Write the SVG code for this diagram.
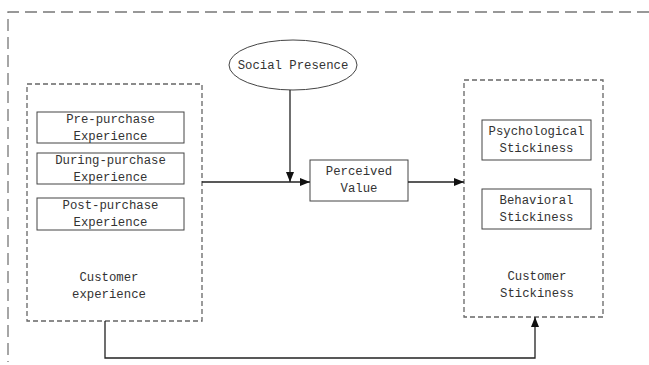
<svg xmlns="http://www.w3.org/2000/svg" width="649" height="365" viewBox="0 0 649 365">
<defs>
<style>
.t{font-family:"Liberation Mono","DejaVu Sans Mono",monospace;font-size:12.3px;fill:#333;text-anchor:middle}
.frame{fill:none;stroke:#777;stroke-width:1.3;stroke-dasharray:12 6}
.dbox{fill:none;stroke:#666;stroke-width:1.3;stroke-dasharray:5 3}
.box{fill:#fff;stroke:#444;stroke-width:1}
.ln{fill:none;stroke:#222;stroke-width:1.3}
</style>
<marker id="ah" viewBox="0 0 10 10" refX="10" refY="5" markerWidth="10" markerHeight="10" markerUnits="userSpaceOnUse" orient="auto">
<path d="M0,1 L10,5 L0,9 Z" fill="#111"/>
</marker>
</defs>
<g id="frame">
<path class="frame" d="M649,12 H8 V362"/>
</g>
<g id="customer-experience">
<rect class="dbox" x="27" y="84" width="175" height="237"/>
<text class="t" x="109" y="281">Customer</text>
<text class="t" x="109" y="298">experience</text>
</g>
<g id="pre-purchase">
<rect class="box" x="37" y="112" width="147" height="31"/>
<text class="t" x="110.5" y="123">Pre-purchase</text>
<text class="t" x="110.5" y="140">Experience</text>
</g>
<g id="during-purchase">
<rect class="box" x="37" y="153" width="147" height="31"/>
<text class="t" x="110.5" y="164">During-purchase</text>
<text class="t" x="110.5" y="181">Experience</text>
</g>
<g id="post-purchase">
<rect class="box" x="37" y="198" width="147" height="32"/>
<text class="t" x="110.5" y="209">Post-purchase</text>
<text class="t" x="110.5" y="226">Experience</text>
</g>
<g id="social-presence">
<ellipse cx="293" cy="65" rx="64" ry="25" fill="#fff" stroke="#444" stroke-width="1"/>
<text class="t" x="293" y="69">Social Presence</text>
</g>
<g id="perceived-value">
<rect class="box" x="310" y="160" width="98" height="41"/>
<text class="t" x="359" y="175">Perceived</text>
<text class="t" x="359" y="192">Value</text>
</g>
<g id="customer-stickiness">
<rect class="dbox" x="464" y="80" width="139" height="237"/>
<text class="t" x="537" y="280">Customer</text>
<text class="t" x="537" y="297">Stickiness</text>
</g>
<g id="psychological-stickiness">
<rect class="box" x="482" y="120" width="109" height="40"/>
<text class="t" x="536.5" y="135">Psychological</text>
<text class="t" x="536.5" y="152">Stickiness</text>
</g>
<g id="behavioral-stickiness">
<rect class="box" x="482" y="189" width="109" height="40"/>
<text class="t" x="536.5" y="204">Behavioral</text>
<text class="t" x="536.5" y="221">Stickiness</text>
</g>
<g id="connectors">
<path class="ln" d="M202,182 H310" marker-end="url(#ah)"/>
<path class="ln" d="M290,90 V182" marker-end="url(#ah)"/>
<path class="ln" d="M408,182 H464" marker-end="url(#ah)"/>
<path class="ln" d="M105,321 V358 H535 V317" marker-end="url(#ah)"/>
</g>
</svg>
